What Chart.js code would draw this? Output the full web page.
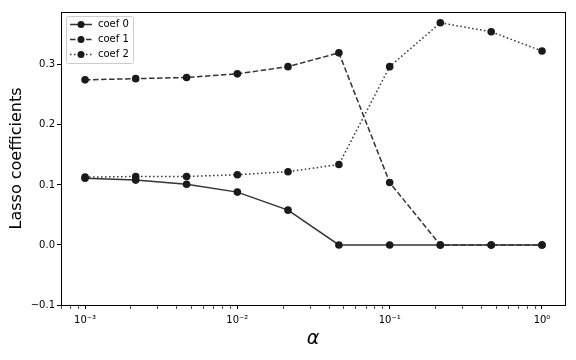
<!DOCTYPE html>
<html>
<head>
<meta charset="utf-8">
<script src="https://cdn.jsdelivr.net/npm/chart.js@4/dist/chart.umd.min.js"></script>
<style>
  html, body { margin: 0; padding: 0; background: #fff; }
  #wrap { width: 576px; height: 360px; }
</style>
</head>
<body>
<div id="wrap"><canvas id="c" width="576" height="360"></canvas></div>
<script>
const alphas = [0.001, 0.00215, 0.00464, 0.01, 0.0215, 0.0464, 0.1, 0.215, 0.464, 1.0];
const coef0 = [0.111, 0.108, 0.101, 0.088, 0.058, 0.0, 0.0, 0.0, 0.0, 0.0];
const coef1 = [0.275, 0.277, 0.279, 0.285, 0.297, 0.320, 0.104, 0.0, 0.0, 0.0];
const coef2 = [0.113, 0.114, 0.114, 0.117, 0.122, 0.134, 0.297, 0.370, 0.355, 0.323];
const seriesNames = ["coef 0", "coef 1", "coef 2"];
const yTicks = [-0.1, 0.0, 0.1, 0.2, 0.3];
const supers = { "-": "\u207B", "0": "\u2070", "1": "\u00B9", "2": "\u00B2", "3": "\u00B3" };

const dashes = [[], [5.5, 2.5], [1.5, 2.5]];
const pts = ys => alphas.map((a, i) => ({ x: a, y: ys[i] }));

// tick positions: decades plus minor 2..9
const logTicks = [];
for (let e = -4; e <= 0; e++) {
  for (let m = 1; m <= 9; m++) {
    const v = m * Math.pow(10, e);
    if (v >= 0.000695 && v <= 1.416) logTicks.push({ value: v, major: m === 1 });
  }
}

const legendBox = {
  id: "legendBox",
  afterDraw(chart) {
    const ctx = chart.ctx;
    const x0 = chart.chartArea.left + 5, y0 = chart.chartArea.top + 4;
    ctx.save();
    ctx.fillStyle = "rgba(255,255,255,0.8)";
    ctx.strokeStyle = "#cccccc";
    ctx.lineWidth = 1;
    ctx.beginPath();
    ctx.roundRect(x0 + 0.5, y0 + 0.5, 67, 47, 2);
    ctx.fill();
    ctx.stroke();
    ctx.font = "10px 'DejaVu Sans'";
    ctx.textBaseline = "middle";
    chart.data.datasets.forEach((ds, i) => {
      const yy = y0 + 8.5 + i * 15;
      ctx.strokeStyle = ds.borderColor;
      ctx.lineWidth = 1.5;
      ctx.setLineDash(dashes[i]);
      ctx.beginPath();
      ctx.moveTo(x0 + 4, yy);
      ctx.lineTo(x0 + 26, yy);
      ctx.stroke();
      ctx.setLineDash([]);
      ctx.fillStyle = ds.pointBackgroundColor;
      ctx.beginPath();
      ctx.arc(x0 + 15, yy, 3.5, 0, Math.PI * 2);
      ctx.fill();
      ctx.fillStyle = "#000";
      ctx.fillText(ds.label, x0 + 32, yy);
    });
    ctx.restore();
  }
};

const frame = {
  id: "frame",
  afterDraw(chart) {
    const a = chart.chartArea, ctx = chart.ctx;
    ctx.save();
    ctx.strokeStyle = "#000";
    ctx.lineWidth = 1;
    ctx.strokeRect(Math.round(a.left) + 0.5, Math.round(a.top) + 0.5,
      Math.round(a.right - a.left), Math.round(a.bottom - a.top));
    ctx.restore();
  }
};

new Chart(document.getElementById("c"), {
  type: "line",
  data: {
    datasets: [coef0, coef1, coef2].map((ys, i) => ({
      label: seriesNames[i],
      data: pts(ys),
      borderColor: "#333333",
      borderWidth: 1.5,
      borderDash: dashes[i],
      pointBackgroundColor: "#1a1a1a",
      pointBorderColor: "#1a1a1a",
      pointRadius: 3.8,
      pointBorderWidth: 0,
      tension: 0
    }))
  },
  options: {
    responsive: false,
    animation: false,
    layout: { padding: { top: 12, right: 11, left: 0, bottom: 0 } },
    plugins: { legend: { display: false }, tooltip: { enabled: false } },
    scales: {
      x: {
        type: "logarithmic",
        min: 0.000695,
        max: 1.416,
        afterBuildTicks: s => { s.ticks = logTicks.map(t => ({ value: t.value, major: t.major })); },
        afterFit: s => { s.height = 55; },
        grid: {
          drawOnChartArea: false,
          drawTicks: true,
          tickLength: 4,
          tickColor: "#000",
          tickWidth: c => (c.tick && c.tick.major ? 1 : 0.7)
        },
        border: { display: false },
        ticks: {
          autoSkip: false,
          maxRotation: 0,
          color: "#000",
          padding: 5,
          font: { family: "DejaVu Sans", size: 10 },
          callback: function (v) {
            const e = Math.round(Math.log10(v));
            if (Math.abs(v - Math.pow(10, e)) > 1e-9 * Math.pow(10, e)) return "";
            return "10" + String(e).split("").map(ch => supers[ch]).join("");
          }
        },
        title: {
          display: true,
          text: "\u03B1",
          color: "#000",
          padding: { top: 0, bottom: 10 },
          font: { family: "DejaVu Sans", size: 19, style: "italic" }
        }
      },
      y: {
        min: -0.1,
        max: 0.388,
        afterBuildTicks: s => { s.ticks = yTicks.map(v => ({ value: v })); },
        afterFit: s => { s.width = 61; },
        grid: { drawOnChartArea: false, tickLength: 4, tickColor: "#000" },
        border: { display: false },
        ticks: {
          color: "#000",
          padding: 2,
          font: { family: "DejaVu Sans", size: 10 },
          callback: v => (v < 0 ? "\u2212" : "") + Math.abs(v).toFixed(1)
        },
        title: {
          display: true,
          text: "Lasso coefficients",
          color: "#000",
          padding: { top: 7, bottom: 0 },
          font: { family: "DejaVu Sans", size: 16 }
        }
      }
    }
  },
  plugins: [frame, legendBox]
});
</script>
</body>
</html>
